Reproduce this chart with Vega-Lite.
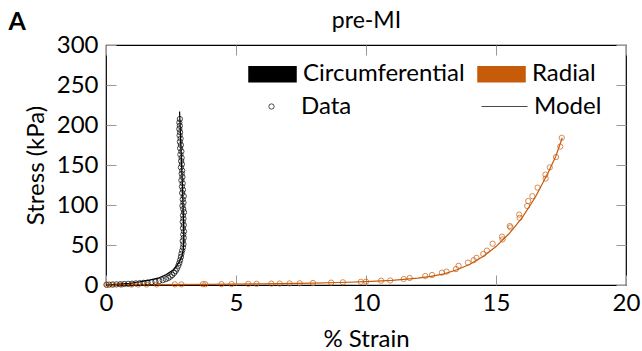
{
  "$schema": "https://vega.github.io/schema/vega-lite/v6.json",
  "width": 520,
  "height": 240,
  "autosize": "none",
  "padding": {"left": 106, "top": 45, "right": 16, "bottom": 66},
  "config": {
    "font": "Lato",
    "view": {"stroke": "black", "strokeWidth": 1.2},
    "axis": {"domain": false, "grid": false, "tickColor": "#999999", "tickSize": -10, "labelFlush": false, "labelFont": "Lato", "labelFontSize": 24, "labelColor": "black", "titleFont": "Lato", "titleFontSize": 24, "titleFontWeight": "normal", "titleColor": "black"},
    "legend": {"symbolBaseStrokeColor": "black", "symbolBaseFillColor": "transparent"}
  },
  "data": {"values": [
    {"dir": "Circumferential", "kind": "Model", "strain": 0, "stress": 0},
    {"dir": "Circumferential", "kind": "Model", "strain": 0.5, "stress": 1},
    {"dir": "Circumferential", "kind": "Model", "strain": 0.9, "stress": 2},
    {"dir": "Circumferential", "kind": "Model", "strain": 1.3, "stress": 3.8},
    {"dir": "Circumferential", "kind": "Model", "strain": 1.67, "stress": 6},
    {"dir": "Circumferential", "kind": "Model", "strain": 2.0, "stress": 8.5},
    {"dir": "Circumferential", "kind": "Model", "strain": 2.32, "stress": 13},
    {"dir": "Circumferential", "kind": "Model", "strain": 2.55, "stress": 18},
    {"dir": "Circumferential", "kind": "Model", "strain": 2.7, "stress": 23},
    {"dir": "Circumferential", "kind": "Model", "strain": 2.82, "stress": 29},
    {"dir": "Circumferential", "kind": "Model", "strain": 2.92, "stress": 36},
    {"dir": "Circumferential", "kind": "Model", "strain": 2.97, "stress": 44},
    {"dir": "Circumferential", "kind": "Model", "strain": 2.99, "stress": 55},
    {"dir": "Circumferential", "kind": "Model", "strain": 2.99, "stress": 70},
    {"dir": "Circumferential", "kind": "Model", "strain": 2.97, "stress": 90},
    {"dir": "Circumferential", "kind": "Model", "strain": 2.95, "stress": 115},
    {"dir": "Circumferential", "kind": "Model", "strain": 2.92, "stress": 140},
    {"dir": "Circumferential", "kind": "Model", "strain": 2.89, "stress": 165},
    {"dir": "Circumferential", "kind": "Model", "strain": 2.86, "stress": 190},
    {"dir": "Circumferential", "kind": "Model", "strain": 2.83, "stress": 217},
    {"dir": "Radial", "kind": "Model", "strain": 0, "stress": 0},
    {"dir": "Radial", "kind": "Model", "strain": 2, "stress": 0.4},
    {"dir": "Radial", "kind": "Model", "strain": 4, "stress": 0.9},
    {"dir": "Radial", "kind": "Model", "strain": 6, "stress": 1.5},
    {"dir": "Radial", "kind": "Model", "strain": 8, "stress": 2.4},
    {"dir": "Radial", "kind": "Model", "strain": 9, "stress": 3.1},
    {"dir": "Radial", "kind": "Model", "strain": 10, "stress": 4.2},
    {"dir": "Radial", "kind": "Model", "strain": 11, "stress": 5.8},
    {"dir": "Radial", "kind": "Model", "strain": 12, "stress": 8.5},
    {"dir": "Radial", "kind": "Model", "strain": 12.5, "stress": 10.8},
    {"dir": "Radial", "kind": "Model", "strain": 13, "stress": 14},
    {"dir": "Radial", "kind": "Model", "strain": 13.5, "stress": 19},
    {"dir": "Radial", "kind": "Model", "strain": 14, "stress": 26},
    {"dir": "Radial", "kind": "Model", "strain": 14.5, "stress": 35.5},
    {"dir": "Radial", "kind": "Model", "strain": 15, "stress": 48},
    {"dir": "Radial", "kind": "Model", "strain": 15.5, "stress": 64},
    {"dir": "Radial", "kind": "Model", "strain": 16, "stress": 84},
    {"dir": "Radial", "kind": "Model", "strain": 16.5, "stress": 109},
    {"dir": "Radial", "kind": "Model", "strain": 17, "stress": 140},
    {"dir": "Radial", "kind": "Model", "strain": 17.3, "stress": 161},
    {"dir": "Radial", "kind": "Model", "strain": 17.55, "stress": 184},
    {"dir": "Circumferential", "kind": "Data", "strain": 0.02, "stress": 0.3},
    {"dir": "Circumferential", "kind": "Data", "strain": 0.12, "stress": 0.5},
    {"dir": "Circumferential", "kind": "Data", "strain": 0.25, "stress": 0.6},
    {"dir": "Circumferential", "kind": "Data", "strain": 0.4, "stress": 0.8},
    {"dir": "Circumferential", "kind": "Data", "strain": 0.55, "stress": 1.0},
    {"dir": "Circumferential", "kind": "Data", "strain": 0.7, "stress": 1.2},
    {"dir": "Circumferential", "kind": "Data", "strain": 0.85, "stress": 1.4},
    {"dir": "Circumferential", "kind": "Data", "strain": 1.0, "stress": 1.7},
    {"dir": "Circumferential", "kind": "Data", "strain": 1.15, "stress": 2.0},
    {"dir": "Circumferential", "kind": "Data", "strain": 1.3, "stress": 2.3},
    {"dir": "Circumferential", "kind": "Data", "strain": 1.45, "stress": 2.7},
    {"dir": "Circumferential", "kind": "Data", "strain": 1.6, "stress": 3.1},
    {"dir": "Circumferential", "kind": "Data", "strain": 1.75, "stress": 3.6},
    {"dir": "Circumferential", "kind": "Data", "strain": 1.9, "stress": 4.2},
    {"dir": "Circumferential", "kind": "Data", "strain": 2.05, "stress": 5.0},
    {"dir": "Circumferential", "kind": "Data", "strain": 2.18, "stress": 6.0},
    {"dir": "Circumferential", "kind": "Data", "strain": 2.3, "stress": 7.3},
    {"dir": "Circumferential", "kind": "Data", "strain": 2.4, "stress": 8.8},
    {"dir": "Circumferential", "kind": "Data", "strain": 2.48, "stress": 10.5},
    {"dir": "Circumferential", "kind": "Data", "strain": 2.55, "stress": 12.5},
    {"dir": "Circumferential", "kind": "Data", "strain": 2.62, "stress": 15},
    {"dir": "Circumferential", "kind": "Data", "strain": 2.68, "stress": 17.5},
    {"dir": "Circumferential", "kind": "Data", "strain": 2.73, "stress": 20.5},
    {"dir": "Circumferential", "kind": "Data", "strain": 2.78, "stress": 24},
    {"dir": "Circumferential", "kind": "Data", "strain": 2.82, "stress": 27.5},
    {"dir": "Circumferential", "kind": "Data", "strain": 2.85, "stress": 31},
    {"dir": "Circumferential", "kind": "Data", "strain": 2.88, "stress": 35},
    {"dir": "Circumferential", "kind": "Data", "strain": 2.9, "stress": 39},
    {"dir": "Circumferential", "kind": "Data", "strain": 2.93, "stress": 43},
    {"dir": "Circumferential", "kind": "Data", "strain": 2.96, "stress": 47},
    {"dir": "Circumferential", "kind": "Data", "strain": 2.98, "stress": 51},
    {"dir": "Circumferential", "kind": "Data", "strain": 2.95, "stress": 55},
    {"dir": "Circumferential", "kind": "Data", "strain": 2.99, "stress": 59},
    {"dir": "Circumferential", "kind": "Data", "strain": 2.97, "stress": 63},
    {"dir": "Circumferential", "kind": "Data", "strain": 3.0, "stress": 67},
    {"dir": "Circumferential", "kind": "Data", "strain": 2.96, "stress": 71},
    {"dir": "Circumferential", "kind": "Data", "strain": 2.99, "stress": 75},
    {"dir": "Circumferential", "kind": "Data", "strain": 2.95, "stress": 79},
    {"dir": "Circumferential", "kind": "Data", "strain": 2.98, "stress": 83},
    {"dir": "Circumferential", "kind": "Data", "strain": 2.96, "stress": 87},
    {"dir": "Circumferential", "kind": "Data", "strain": 3.0, "stress": 91},
    {"dir": "Circumferential", "kind": "Data", "strain": 2.97, "stress": 95},
    {"dir": "Circumferential", "kind": "Data", "strain": 2.94, "stress": 99},
    {"dir": "Circumferential", "kind": "Data", "strain": 2.98, "stress": 103},
    {"dir": "Circumferential", "kind": "Data", "strain": 2.95, "stress": 107},
    {"dir": "Circumferential", "kind": "Data", "strain": 2.99, "stress": 111},
    {"dir": "Circumferential", "kind": "Data", "strain": 2.93, "stress": 115},
    {"dir": "Circumferential", "kind": "Data", "strain": 2.96, "stress": 119},
    {"dir": "Circumferential", "kind": "Data", "strain": 2.92, "stress": 123},
    {"dir": "Circumferential", "kind": "Data", "strain": 2.95, "stress": 127},
    {"dir": "Circumferential", "kind": "Data", "strain": 2.9, "stress": 131},
    {"dir": "Circumferential", "kind": "Data", "strain": 2.94, "stress": 135},
    {"dir": "Circumferential", "kind": "Data", "strain": 2.91, "stress": 139},
    {"dir": "Circumferential", "kind": "Data", "strain": 2.93, "stress": 143},
    {"dir": "Circumferential", "kind": "Data", "strain": 2.88, "stress": 147},
    {"dir": "Circumferential", "kind": "Data", "strain": 2.92, "stress": 151},
    {"dir": "Circumferential", "kind": "Data", "strain": 2.89, "stress": 155},
    {"dir": "Circumferential", "kind": "Data", "strain": 2.91, "stress": 159},
    {"dir": "Circumferential", "kind": "Data", "strain": 2.86, "stress": 163},
    {"dir": "Circumferential", "kind": "Data", "strain": 2.9, "stress": 167},
    {"dir": "Circumferential", "kind": "Data", "strain": 2.85, "stress": 171},
    {"dir": "Circumferential", "kind": "Data", "strain": 2.88, "stress": 175},
    {"dir": "Circumferential", "kind": "Data", "strain": 2.84, "stress": 179},
    {"dir": "Circumferential", "kind": "Data", "strain": 2.87, "stress": 183},
    {"dir": "Circumferential", "kind": "Data", "strain": 2.83, "stress": 187},
    {"dir": "Circumferential", "kind": "Data", "strain": 2.85, "stress": 191},
    {"dir": "Circumferential", "kind": "Data", "strain": 2.82, "stress": 195},
    {"dir": "Circumferential", "kind": "Data", "strain": 2.84, "stress": 199},
    {"dir": "Circumferential", "kind": "Data", "strain": 2.82, "stress": 203},
    {"dir": "Circumferential", "kind": "Data", "strain": 2.84, "stress": 207.5},
    {"dir": "Radial", "kind": "Data", "strain": 0.03, "stress": 0.5},
    {"dir": "Radial", "kind": "Data", "strain": 0.28, "stress": 0.5},
    {"dir": "Radial", "kind": "Data", "strain": 0.6, "stress": 0.5},
    {"dir": "Radial", "kind": "Data", "strain": 0.98, "stress": 0.5},
    {"dir": "Radial", "kind": "Data", "strain": 1.24, "stress": 0.6},
    {"dir": "Radial", "kind": "Data", "strain": 1.56, "stress": 0.6},
    {"dir": "Radial", "kind": "Data", "strain": 1.95, "stress": 0.7},
    {"dir": "Radial", "kind": "Data", "strain": 2.65, "stress": 0.8},
    {"dir": "Radial", "kind": "Data", "strain": 2.9, "stress": 0.8},
    {"dir": "Radial", "kind": "Data", "strain": 3.73, "stress": 1.0},
    {"dir": "Radial", "kind": "Data", "strain": 3.82, "stress": 1.0},
    {"dir": "Radial", "kind": "Data", "strain": 4.44, "stress": 1.1},
    {"dir": "Radial", "kind": "Data", "strain": 4.83, "stress": 1.2},
    {"dir": "Radial", "kind": "Data", "strain": 5.47, "stress": 1.4},
    {"dir": "Radial", "kind": "Data", "strain": 5.79, "stress": 1.5},
    {"dir": "Radial", "kind": "Data", "strain": 6.36, "stress": 1.7},
    {"dir": "Radial", "kind": "Data", "strain": 6.68, "stress": 1.8},
    {"dir": "Radial", "kind": "Data", "strain": 7.06, "stress": 2.0},
    {"dir": "Radial", "kind": "Data", "strain": 7.45, "stress": 2.2},
    {"dir": "Radial", "kind": "Data", "strain": 7.96, "stress": 2.5},
    {"dir": "Radial", "kind": "Data", "strain": 8.66, "stress": 3.0},
    {"dir": "Radial", "kind": "Data", "strain": 9.11, "stress": 3.4},
    {"dir": "Radial", "kind": "Data", "strain": 9.8, "stress": 4.0},
    {"dir": "Radial", "kind": "Data", "strain": 10.0, "stress": 4.2},
    {"dir": "Radial", "kind": "Data", "strain": 10.58, "stress": 5.4},
    {"dir": "Radial", "kind": "Data", "strain": 10.93, "stress": 5.6},
    {"dir": "Radial", "kind": "Data", "strain": 11.45, "stress": 7.5},
    {"dir": "Radial", "kind": "Data", "strain": 11.68, "stress": 8.75},
    {"dir": "Radial", "kind": "Data", "strain": 12.28, "stress": 11.25},
    {"dir": "Radial", "kind": "Data", "strain": 12.54, "stress": 12.5},
    {"dir": "Radial", "kind": "Data", "strain": 12.92, "stress": 15.4},
    {"dir": "Radial", "kind": "Data", "strain": 13.1, "stress": 16.7},
    {"dir": "Radial", "kind": "Data", "strain": 13.46, "stress": 20},
    {"dir": "Radial", "kind": "Data", "strain": 13.56, "stress": 24},
    {"dir": "Radial", "kind": "Data", "strain": 13.92, "stress": 28},
    {"dir": "Radial", "kind": "Data", "strain": 14.14, "stress": 31},
    {"dir": "Radial", "kind": "Data", "strain": 14.25, "stress": 34},
    {"dir": "Radial", "kind": "Data", "strain": 14.51, "stress": 38.75},
    {"dir": "Radial", "kind": "Data", "strain": 14.65, "stress": 43},
    {"dir": "Radial", "kind": "Data", "strain": 14.87, "stress": 51.6},
    {"dir": "Radial", "kind": "Data", "strain": 15.23, "stress": 60.4},
    {"dir": "Radial", "kind": "Data", "strain": 15.25, "stress": 57},
    {"dir": "Radial", "kind": "Data", "strain": 15.53, "stress": 73.7},
    {"dir": "Radial", "kind": "Data", "strain": 15.56, "stress": 72},
    {"dir": "Radial", "kind": "Data", "strain": 15.89, "stress": 88},
    {"dir": "Radial", "kind": "Data", "strain": 15.91, "stress": 84},
    {"dir": "Radial", "kind": "Data", "strain": 16.2, "stress": 98.75},
    {"dir": "Radial", "kind": "Data", "strain": 16.24, "stress": 105},
    {"dir": "Radial", "kind": "Data", "strain": 16.4, "stress": 111},
    {"dir": "Radial", "kind": "Data", "strain": 16.6, "stress": 121.7},
    {"dir": "Radial", "kind": "Data", "strain": 16.9, "stress": 138},
    {"dir": "Radial", "kind": "Data", "strain": 16.91, "stress": 133},
    {"dir": "Radial", "kind": "Data", "strain": 17.07, "stress": 147},
    {"dir": "Radial", "kind": "Data", "strain": 17.31, "stress": 160},
    {"dir": "Radial", "kind": "Data", "strain": 17.47, "stress": 173},
    {"dir": "Radial", "kind": "Data", "strain": 17.53, "stress": 184}
  ]},
  "resolve": {"axis": {"x": "independent", "y": "independent"}},
  "layer": [
    {
      "transform": [{"filter": "datum.kind === 'Model'"}],
      "mark": {"type": "line", "strokeWidth": 1.2},
      "encoding": {
        "x": {"field": "strain", "type": "quantitative", "scale": {"domain": [0, 20], "nice": false},
              "axis": {"orient": "bottom", "values": [0, 5, 10, 15, 20], "labelPadding": 16, "title": "% Strain", "titleX": 260, "titleY": 61.5, "titleBaseline": "alphabetic"}},
        "y": {"field": "stress", "type": "quantitative", "scale": {"domain": [0, 300], "nice": false},
              "axis": {"orient": "left", "values": [0, 50, 100, 150, 200, 250, 300], "labelPadding": 18, "title": "Stress (kPa)", "titleX": -63, "titleY": 120, "titleAngle": -90, "titleBaseline": "alphabetic", "titleAlign": "center"}},
        "order": {"field": "stress", "type": "quantitative"},
        "color": {"field": "dir", "type": "nominal",
                  "scale": {"domain": ["Circumferential", "Radial"], "range": ["#000000", "#c65b0a"]},
                  "legend": {"title": null, "orient": "none", "legendX": 142, "legendY": 4.5, "direction": "horizontal",
                             "symbolType": "M-1,-0.32H1V0.32H-1Z", "symbolSize": 2209, "symbolStrokeColor": "black", "symbolStrokeWidth": 1.5,
                             "labelOffset": 6, "columnPadding": 10, "labelLimit": 400, "gridAlign": "each",
                             "labelFont": "Lato", "labelFontSize": 24, "labelColor": "black", "padding": 0,
                             "encode": {"symbols": {"update": {"fill": {"scale": "color", "field": "value"}, "stroke": {"value": "#000000"}, "strokeWidth": {"value": 1.5}}}}}}
      }
    },
    {
      "transform": [{"filter": "datum.kind === 'Data'"}],
      "mark": {"type": "point", "filled": false, "strokeWidth": 1},
      "encoding": {
        "x": {"field": "strain", "type": "quantitative",
              "axis": {"orient": "top", "values": [0, 5, 10, 15, 20], "labels": false, "title": "pre-MI", "titleX": 260, "titleY": -18, "titleBaseline": "alphabetic", "titleFontSize": 23}},
        "y": {"field": "stress", "type": "quantitative",
              "axis": {"orient": "right", "values": [0, 50, 100, 150, 200, 250, 300], "labels": false, "title": "A", "titleAngle": 0, "titleX": -618, "titleY": -16, "titleAlign": "left", "titleBaseline": "alphabetic", "titleFontWeight": "bold", "titleFontSize": 25}},
        "color": {"field": "dir", "type": "nominal"},
        "shape": {"field": "kind", "type": "nominal",
                  "scale": {"domain": ["Data", "Model"], "range": ["circle", "M-2,0H2"]},
                  "legend": {"title": null, "orient": "none", "legendX": 142, "legendY": 49.5, "direction": "horizontal",
                             "symbolOffset": 11.5, "labelOffset": 17.5, "columnPadding": 127, "labelLimit": 400, "gridAlign": "each",
                             "symbolStrokeColor": "black", "symbolStrokeWidth": 1,
                             "labelFont": "Lato", "labelFontSize": 24, "labelColor": "black", "padding": 0}},
        "size": {"field": "kind", "type": "nominal",
                 "scale": {"domain": ["Data", "Model"], "range": [28, 529]},
                 "legend": {"title": null, "orient": "none", "legendX": 142, "legendY": 49.5, "direction": "horizontal",
                             "symbolOffset": 11.5, "labelOffset": 17.5, "columnPadding": 127, "labelLimit": 400, "gridAlign": "each",
                             "symbolStrokeColor": "black", "symbolStrokeWidth": 1,
                             "labelFont": "Lato", "labelFontSize": 24, "labelColor": "black", "padding": 0}}
      }
    }
  ]
}
